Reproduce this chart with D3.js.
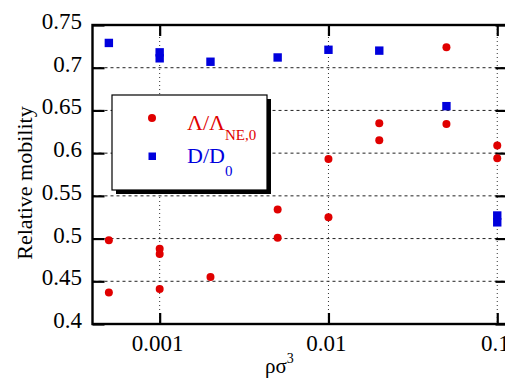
<!DOCTYPE html>
<html><head><meta charset="utf-8">
<script src="https://cdn.jsdelivr.net/npm/d3@7"></script>
<style>body{margin:0;background:#fff;} svg{display:block;}</style>
</head><body>
<svg id="c" width="505" height="378"></svg>
<script>
// Data
const lambdaX = [0.0005, 0.0005, 0.001, 0.001, 0.001, 0.002, 0.005, 0.005, 0.01, 0.01, 0.02, 0.02, 0.05, 0.05, 0.1, 0.1];
const lambdaY = [0.498, 0.437, 0.488, 0.482, 0.441, 0.455, 0.534, 0.501, 0.593, 0.525, 0.635, 0.615, 0.724, 0.634, 0.609, 0.594];
const diffX = [0.0005, 0.001, 0.001, 0.002, 0.005, 0.01, 0.02, 0.05, 0.1, 0.1];
const diffY = [0.729, 0.718, 0.711, 0.707, 0.712, 0.721, 0.720, 0.655, 0.527, 0.519];
const xTicks = [0.001, 0.01, 0.1];
const xTickLabels = ["0.001", "0.01", "0.1"];
const yTicks = [0.4, 0.45, 0.5, 0.55, 0.6, 0.65, 0.7, 0.75];
const yTickLabels = ["0.4", "0.45", "0.5", "0.55", "0.6", "0.65", "0.7", "0.75"];
const yGrid = [0.45, 0.5, 0.55, 0.6, 0.65, 0.7];

const svg = d3.select("#c");
const FF = '"Liberation Serif"';
const L = 92.5, R = 507.5, T = 25, B = 324;
const x = d3.scaleLog().domain([0.0004, 0.115]).range([L, R]);
const y = d3.scaleLinear().domain([0.4, 0.75]).range([B, T]);
const red = "#e00000", blue = "#0000dd";

// grid
svg.append("g").selectAll("line").data(yGrid).join("line")
  .attr("x1", L).attr("x2", R).attr("y1", d => y(d)).attr("y2", d => y(d))
  .attr("stroke", "#222").attr("stroke-width", 1).attr("stroke-dasharray", "3,3");
svg.append("g").selectAll("line").data(xTicks).join("line")
  .attr("x1", d => x(d)).attr("x2", d => x(d)).attr("y1", T).attr("y2", B)
  .attr("stroke", "#333").attr("stroke-width", 1).attr("stroke-dasharray", "1,3");

// axes with inward ticks
const axL = d3.axisRight(y).tickValues(yTicks).tickSize(12).tickFormat("");
const axR = d3.axisLeft(y).tickValues(yTicks).tickSize(12).tickFormat("");
const axB = d3.axisTop(x).tickValues(xTicks).tickSize(11).tickFormat("");
const axT = d3.axisBottom(x).tickValues(xTicks).tickSize(11).tickFormat("");
function style(g){ g.select(".domain").remove(); g.selectAll(".tick line").attr("stroke","#000").attr("stroke-width",2.2); }
svg.append("g").attr("transform", `translate(${L},0)`).call(axL).call(style);
svg.append("g").attr("transform", `translate(${R},0)`).call(axR).call(style);
svg.append("g").attr("transform", `translate(0,${B})`).call(axB).call(style);
svg.append("g").attr("transform", `translate(0,${T})`).call(axT).call(style);

// frame
svg.append("rect").attr("x", L).attr("y", T).attr("width", R - L).attr("height", B - T)
  .attr("fill", "none").attr("stroke", "#000").attr("stroke-width", 2.4);

// tick labels
svg.append("g").selectAll("text").data(yTicks).join("text")
  .attr("x", 82).attr("y", d => y(d) + 4).attr("text-anchor", "end")
  .style("font-family", FF).style("font-size", "23px").text((d, i) => yTickLabels[i]);
svg.append("g").selectAll("text").data(xTicks).join("text")
  .attr("x", d => x(d) - 2).attr("y", 351).attr("text-anchor", "middle")
  .style("font-family", FF).style("font-size", "23px").text((d, i) => xTickLabels[i]);

// axis titles
svg.append("text").attr("transform", "translate(32,183) rotate(-90)").attr("text-anchor", "middle")
  .style("font-family", FF).style("font-size", "22px").text("Relative mobility");
const xt = svg.append("text").attr("x", 265).attr("y", 373).style("font-family", FF).style("font-size", "21px");
xt.append("tspan").text("ρσ");
xt.append("tspan").attr("dy", -10).style("font-size", "14px").text("3");

// data points
svg.append("g").selectAll("circle").data(lambdaX).join("circle")
  .attr("cx", d => x(d)).attr("cy", (d, i) => y(lambdaY[i])).attr("r", 4).attr("fill", red);
svg.append("g").selectAll("rect").data(diffX).join("rect")
  .attr("x", d => x(d) - 4.2).attr("y", (d, i) => y(diffY[i]) - 4.2)
  .attr("width", 8.4).attr("height", 8.4).attr("fill", blue);

// legend
const lg = svg.append("g");
lg.append("rect").attr("x", 116).attr("y", 99).attr("width", 155).attr("height", 95).attr("fill", "#000");
lg.append("rect").attr("x", 112).attr("y", 95).attr("width", 155).attr("height", 95)
  .attr("fill", "#fff").attr("stroke", "#000").attr("stroke-width", 1.2);
lg.append("circle").attr("cx", 152).attr("cy", 118).attr("r", 4).attr("fill", red);
lg.append("rect").attr("x", 148.5).attr("y", 152.5).attr("width", 7.5).attr("height", 7.5).attr("fill", blue);
const t1 = lg.append("text").attr("x", 187).attr("y", 130).style("font-family", FF).style("font-size", "22px").attr("fill", red);
t1.append("tspan").text("Λ/Λ");
t1.append("tspan").attr("dy", 10).style("font-size", "15px").text("NE,0");
const t2 = lg.append("text").attr("x", 187).attr("y", 163).style("font-family", FF).style("font-size", "22px").attr("fill", blue);
t2.append("tspan").text("D/D");
t2.append("tspan").attr("dy", 13).style("font-size", "15px").text("0");
</script>
</body></html>
